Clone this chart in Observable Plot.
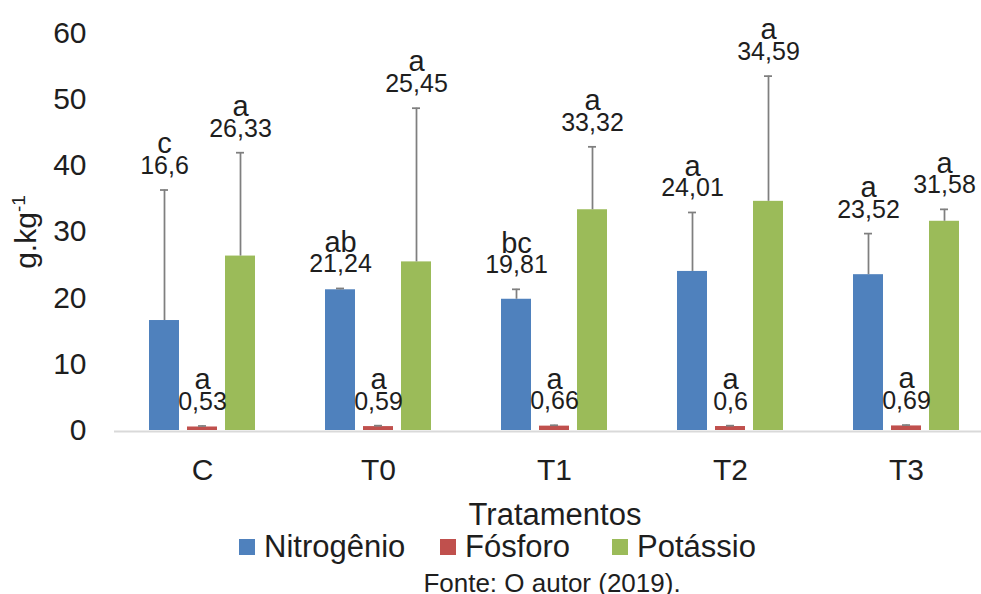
<!DOCTYPE html>
<html>
<head>
<meta charset="utf-8">
<script src="https://cdn.jsdelivr.net/npm/d3@7"></script>
<script src="https://cdn.jsdelivr.net/npm/@observablehq/plot@0.6"></script>
<style>
  html, body { margin: 0; padding: 0; background: #fff; }
  body { position: relative; width: 981px; height: 594px; overflow: hidden; font-family: "Liberation Sans", Arial, sans-serif; color: #1e1e1e; }
  #chart svg { display: block; }
  .legend-item { position: absolute; top: 532px; font-size: 31px; line-height: 30px; white-space: nowrap; }
  .legend-item .sw { display: inline-block; width: 16px; height: 16px; margin-right: 9px; vertical-align: 2px; }
  #caption { position: absolute; top: 570px; left: 0; width: 1104px; text-align: center; font-size: 26px; line-height: 26px; white-space: nowrap; }
</style>
</head>
<body>
<div id="chart"></div>
<div id="legend"></div>
<div id="caption">Fonte: O autor (2019).</div>
<script>
// ---- data ----
const categories = ["C", "T0", "T1", "T2", "T3"];
const series = ["Nitrogênio", "Fósforo", "Potássio"];
const colors = ["#4F81BD", "#C0504D", "#9BBB59"];

const nitrogenio = [16.6, 21.24, 19.81, 24.01, 23.52];
const fosforo = [0.53, 0.59, 0.66, 0.6, 0.69];
const potassio = [26.33, 25.45, 33.32, 34.59, 31.58];

const errNitrogenio = [19.7, 0.2, 1.5, 8.9, 6.2];
const errFosforo = [0.15, 0.14, 0.13, 0.13, 0.13];
const errPotassio = [15.6, 23.2, 9.5, 18.9, 1.8];

const lettersNitrogenio = ["c", "ab", "bc", "a", "a"];
const lettersFosforo = ["a", "a", "a", "a", "a"];
const lettersPotassio = ["a", "a", "a", "a", "a"];

const yTicks = [0, 10, 20, 30, 40, 50, 60];

// ---- build table ----
const valueSets = [nitrogenio, fosforo, potassio];
const errSets = [errNitrogenio, errFosforo, errPotassio];
const letterSets = [lettersNitrogenio, lettersFosforo, lettersPotassio];
const data = [];
categories.forEach((cat, i) => {
  series.forEach((s, j) => {
    const v = valueSets[j][i];
    data.push({
      cat, series: s, value: v,
      top: v + errSets[j][i],
      label: String(v).replace(".", ","),
      letter: letterSets[j][i]
    });
  });
});

const textColor = "#1e1e1e";

const svg = Plot.plot({
  width: 981,
  height: 532,
  marginTop: 32.5,
  marginBottom: 102,
  marginLeft: 113,
  marginRight: -13,
  style: { fontFamily: "Liberation Sans, Arial, sans-serif", fontSize: "30px", color: textColor, background: "transparent" },
  fx: { domain: categories, padding: 0, label: null, tickSize: 0, tickPadding: 28, axis: "bottom" },
  x: { domain: series, paddingInner: 0.205, paddingOuter: 0.862, axis: null },
  y: { domain: [0, 60], ticks: yTicks, tickSize: 0, tickPadding: 28, label: null, tickFormat: d => String(d) },
  color: { domain: series, range: colors },
  marks: [
    Plot.ruleY([0], { stroke: "#d9d9d9", strokeWidth: 2, dy: 1 }),
    Plot.barY(data, { fx: "cat", x: "series", y: "value", fill: "series" }),
    Plot.ruleX(data, { fx: "cat", x: "series", y1: "value", y2: "top", stroke: "#7f7f7f", strokeWidth: 1.75 }),
    Plot.tickY(data, { fx: "cat", x: "series", y: "top", stroke: "#7f7f7f", strokeWidth: 1.75, insetLeft: 11, insetRight: 11 }),
    Plot.text(data, { fx: "cat", x: "series", y: "top", text: "label", dy: -24, fontSize: 25, fill: textColor }),
    Plot.text(data, { fx: "cat", x: "series", y: "top", text: "letter", dy: -46, fontSize: 29, fill: textColor })
  ]
});

// axis titles
const s = d3.select(svg);
s.append("text")
  .attr("x", 555).attr("y", 525)
  .attr("text-anchor", "middle")
  .attr("font-size", 31)
  .attr("fill", textColor)
  .text("Tratamentos");

const yl = s.append("text")
  .attr("transform", "translate(36,232) rotate(-90)")
  .attr("text-anchor", "middle")
  .attr("font-size", 30)
  .attr("fill", textColor);
yl.append("tspan").text("g.kg");
yl.append("tspan").attr("font-size", 19).attr("dy", -11).text("-1");

document.getElementById("chart").appendChild(svg);

// legend
const legendLeft = [239, 440, 612];
const legend = document.getElementById("legend");
series.forEach((name, i) => {
  const item = document.createElement("div");
  item.className = "legend-item";
  item.style.left = legendLeft[i] + "px";
  const sw = document.createElement("span");
  sw.className = "sw";
  sw.style.background = colors[i];
  item.appendChild(sw);
  item.appendChild(document.createTextNode(name));
  legend.appendChild(item);
});
</script>
</body>
</html>
